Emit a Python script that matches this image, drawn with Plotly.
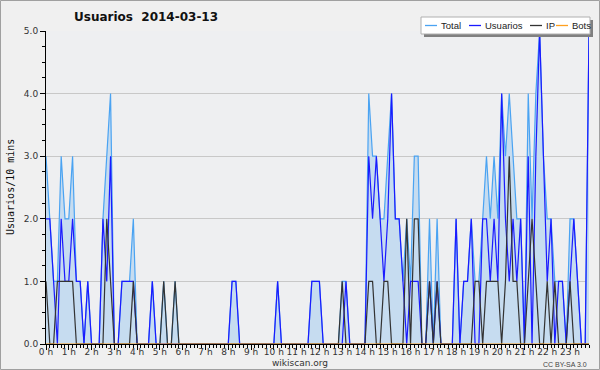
import plotly.graph_objects as go

# one value per 10 minutes, grouped by hour (6 values per row)
usuarios = [
    2, 2, 1, 0, 2, 1,   # 0 h
    1, 2, 1, 1, 0, 1,   # 1 h
    0, 0, 0, 2, 1, 3,   # 2 h
    0, 0, 1, 1, 1, 1,   # 3 h
    0, 0, 0, 0, 1, 0,   # 4 h
    0, 0, 0, 0, 0, 0,   # 5 h
    0, 0, 0, 0, 0, 0,   # 6 h
    0, 0, 0, 0, 0, 0,   # 7 h
    0, 1, 1, 0, 0, 0,   # 8 h
    0, 0, 0, 0, 0, 0,   # 9 h
    0, 1, 0, 0, 0, 0,   # 10 h
    0, 0, 0, 0, 1, 1,   # 11 h
    1, 0, 0, 0, 0, 0,   # 12 h
    0, 1, 0, 0, 0, 0,   # 13 h
    0, 3, 2, 3, 2, 1,   # 14 h
    2, 4, 2, 2, 1, 0,   # 15 h
    1, 1, 1, 0, 0, 1,   # 16 h
    0, 1, 0, 0, 0, 0,   # 17 h
    2, 0, 1, 1, 2, 0,   # 18 h
    0, 2, 2, 1, 2, 1,   # 19 h
    4, 2, 1, 2, 1, 2,   # 20 h
    0, 3, 0, 3, 5, 3,   # 21 h
    1, 2, 0, 1, 1, 0,   # 22 h
    1, 2, 1, 0, 0, 5,   # 23 h
]
ip = [
    1, 0, 0, 1, 1, 1,
    1, 1, 0, 0, 0, 0,
    0, 0, 0, 0, 2, 1,
    0, 0, 0, 0, 0, 1,
    0, 0, 0, 0, 0, 0,
    0, 1, 0, 0, 1, 0,
    0, 0, 0, 0, 0, 0,
    0, 0, 0, 0, 0, 0,
    0, 0, 0, 0, 0, 0,
    0, 0, 0, 0, 0, 0,
    0, 0, 0, 0, 0, 0,
    0, 0, 0, 0, 0, 0,
    0, 0, 0, 0, 0, 0,
    1, 0, 0, 0, 0, 0,
    0, 1, 1, 0, 0, 1,
    1, 0, 0, 0, 0, 2,
    0, 2, 2, 0, 0, 1,
    0, 1, 0, 0, 0, 0,
    0, 0, 0, 0, 0, 1,
    1, 0, 1, 1, 1, 1,
    0, 1, 3, 1, 1, 0,
    0, 1, 2, 1, 0, 0,
    1, 0, 1, 0, 0, 0,
    1, 0, 0, 0, 0, 0,
]
total = [
    3, 2, 1, 1, 3, 2,
    2, 3, 1, 1, 0, 1,
    0, 0, 0, 2, 3, 4,
    0, 0, 1, 1, 1, 2,
    0, 0, 0, 0, 1, 0,
    0, 1, 0, 0, 1, 0,
    0, 0, 0, 0, 0, 0,
    0, 0, 0, 0, 0, 0,
    0, 1, 1, 0, 0, 0,
    0, 0, 0, 0, 0, 0,
    0, 1, 0, 0, 0, 0,
    0, 0, 0, 0, 1, 1,
    1, 0, 0, 0, 0, 0,
    1, 1, 0, 0, 0, 0,
    0, 4, 3, 3, 2, 2,
    3, 4, 2, 2, 1, 2,
    1, 3, 3, 0, 0, 2,
    0, 2, 0, 0, 0, 0,
    2, 0, 1, 1, 2, 1,
    1, 2, 3, 2, 3, 2,
    4, 3, 4, 3, 2, 2,
    0, 4, 2, 4, 5, 3,
    2, 2, 1, 1, 1, 0,
    2, 2, 1, 0, 0, 5,
]
bots = [0] * 144

hours = [i / 6 for i in range(len(total))]

C_TOTAL = "#4aa3f2"
C_USU = "#1a1aff"
C_IP = "#333333"
C_BOTS = "#ffa020"
FONT = "DejaVu Sans"
LFONT = "Liberation Sans"

fig = go.Figure()
fig.add_trace(go.Scatter(x=hours, y=total, name="Total", mode="lines",
                         line=dict(color=C_TOTAL, width=1.2),
                         fill="tozeroy", fillcolor="#c6dcf0"))
fig.add_trace(go.Scatter(x=hours, y=usuarios, name="Usuarios", mode="lines",
                         line=dict(color=C_USU, width=1.2)))
fig.add_trace(go.Scatter(x=hours, y=ip, name="IP", mode="lines",
                         line=dict(color=C_IP, width=1.2)))
fig.add_trace(go.Scatter(x=hours, y=bots, name="Bots", mode="lines",
                         line=dict(color=C_BOTS, width=1.2)))

W, H = 600, 370
L, R, T, B = 46, 11, 31, 26
PW, PH = W - L - R, H - T - B


def px(x):
    return (x - L) / PW


def py(y):
    return (H - B - y) / PH


shapes = []
annotations = []
# outer frame
shapes.append(dict(type="rect", xref="paper", yref="paper",
                   x0=px(0.5), x1=px(W - 0.5), y0=py(H - 0.5), y1=py(0.5),
                   line=dict(color="#a0a0a0", width=1), layer="above"))
# legend: shadow + box
shapes.append(dict(type="rect", xref="paper", yref="paper",
                   x0=px(424), x1=px(593), y0=py(37), y1=py(20),
                   fillcolor="#808080", line=dict(width=0), layer="above"))
shapes.append(dict(type="rect", xref="paper", yref="paper",
                   x0=px(421), x1=px(590), y0=py(34), y1=py(17),
                   fillcolor="#ffffff", line=dict(color="#b0b0b0", width=1),
                   layer="above"))
legend_items = [("Total", C_TOTAL, 425), ("Usuarios", C_USU, 469),
                ("IP", C_IP, 530), ("Bots", C_BOTS, 556)]
for name, col, x0 in legend_items:
    shapes.append(dict(type="line", xref="paper", yref="paper",
                       x0=px(x0), x1=px(x0 + 12), y0=py(25.5), y1=py(25.5),
                       line=dict(color=col, width=1.3), layer="above"))
    annotations.append(dict(text=name, xref="paper", yref="paper",
                            x=px(x0 + 14), y=py(25.5), xanchor="left",
                            yanchor="middle", showarrow=False,
                            font=dict(family=LFONT, size=9.5, color="#222")))

annotations.append(dict(text="<b>Usuarios \u00a02014-03-13</b>", xref="paper",
                        yref="paper", x=px(146), y=py(17), xanchor="center",
                        yanchor="middle", showarrow=False,
                        font=dict(family=FONT, size=12, color="#111")))
annotations.append(dict(text="Usuarios/10 mins", xref="paper", yref="paper",
                        x=px(10), y=py(187), textangle=-90, xanchor="center",
                        yanchor="middle", showarrow=False,
                        font=dict(family="DejaVu Sans Mono", size=10,
                                  color="#111")))
annotations.append(dict(text="wikiscan.org", xref="paper", yref="paper",
                        x=px(300), y=py(363), xanchor="center",
                        yanchor="middle", showarrow=False,
                        font=dict(family=FONT, size=9, color="#333")))
annotations.append(dict(text="CC BY-SA 3.0", xref="paper", yref="paper",
                        x=px(589), y=py(364), xanchor="right",
                        yanchor="middle", showarrow=False,
                        font=dict(family=LFONT, size=7, color="#444")))

fig.update_layout(
    width=W, height=H,
    margin=dict(l=L, r=R, t=T, b=B, pad=0, autoexpand=False),
    paper_bgcolor="#f0f0f0", plot_bgcolor="#eeeff1",
    showlegend=False, hovermode=False,
    shapes=shapes, annotations=annotations,
    xaxis=dict(range=[0, hours[-1]], tickmode="linear", tick0=0, dtick=1,
               ticksuffix=" h", ticks="outside", ticklen=5, tickcolor="#000",
               showline=True, linecolor="#000", linewidth=1, showgrid=False,
               zeroline=False, fixedrange=True, automargin=False,
               ticklabelstandoff=-6,
               tickfont=dict(family=FONT, size=9, color="#333"),
               minor=dict(tickmode="linear", tick0=0, dtick=1 / 6, ticklen=3,
                          ticks="outside", tickcolor="#000", showgrid=False)),
    yaxis=dict(range=[0, 5], tickmode="linear", tick0=0, dtick=1,
               tickformat=".1f", ticks="outside", ticklen=5, tickcolor="#000",
               showline=True, linecolor="#000", linewidth=1, showgrid=True,
               gridcolor="#c8c8c8", gridwidth=1, zeroline=False,
               fixedrange=True, automargin=False,
               tickfont=dict(family=FONT, size=9, color="#333"),
               minor=dict(tickmode="linear", tick0=0, dtick=0.25, ticklen=3,
                          ticks="outside", tickcolor="#000", showgrid=False)),
)

fig.write_html("out.html")
